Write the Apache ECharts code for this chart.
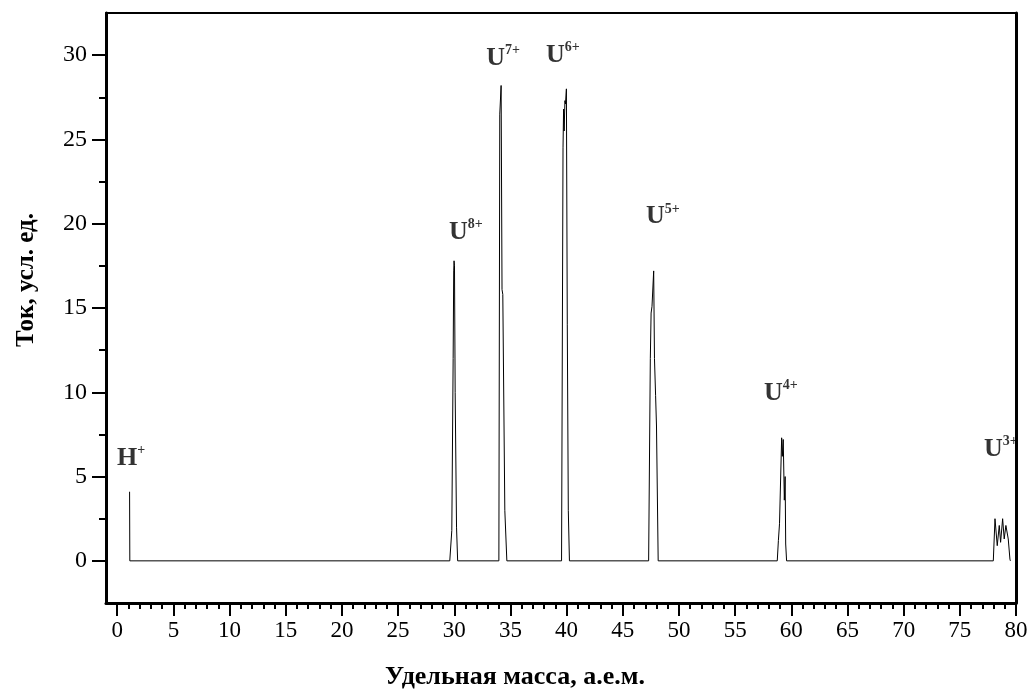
<!DOCTYPE html>
<html>
<head>
<meta charset="utf-8">
<script src="https://cdn.jsdelivr.net/npm/echarts@6/dist/echarts.min.js"></script>
<style>
  html, body { margin: 0; padding: 0; background: #fff; }
  #main { width: 1034px; height: 695px; }
</style>
</head>
<body>
<div id="main"></div>
<script>
// spectrum: mass (a.e.m.) and current (arb. units)
var mass = [
  1.1, 1.12,
  29.6, 29.78, 29.9, 29.95, 29.98, 30.02, 30.08, 30.2, 30.3,
  33.97, 34.05, 34.1, 34.17, 34.25, 34.32, 34.38, 34.5, 34.68,
  39.55, 39.68, 39.73, 39.78, 39.85, 39.9, 39.98, 40.06, 40.15, 40.25,
  47.3, 47.45, 47.52, 47.6, 47.75, 47.82, 47.92, 48.0, 48.15,
  58.75, 58.85, 58.95, 59.14, 59.2, 59.28, 59.38, 59.45, 59.5, 59.58,
  77.98, 78.13, 78.33, 78.51, 78.63, 78.81, 78.95, 79.1, 79.31, 79.46, 79.5
];
var current = [
  4.1, 0,
  0, 1.8, 12, 17.2, 17.8, 17.5, 10, 2, 0,
  0, 26.5, 26.4, 28.2, 16.1, 15.8, 11.5, 3, 0,
  0, 24.5, 26.8, 25.5, 27.3, 27.1, 28.0, 14, 3, 0,
  0, 12, 14.7, 15.1, 17.2, 12, 9.8, 8, 0,
  0, 1.2, 2.2, 7.3, 6.2, 7.2, 3.6, 5.0, 1, 0,
  0, 2.5, 0.9, 2.1, 1.1, 2.5, 1.3, 2.1, 1.3, 0.1, 0
];

// ion labels
var ionBase = ['H', 'U', 'U', 'U', 'U', 'U', 'U'];
var ionCharge = ['+', '8+', '7+', '6+', '5+', '4+', '3+'];
var ionX = [1.23, 31.04, 34.34, 39.67, 48.57, 59.08, 78.65];
var ionY = [6.09, 19.52, 29.83, 30.01, 20.42, 9.94, 6.62];

// ticks
var xMajor = [0, 5, 10, 15, 20, 25, 30, 35, 40, 45, 50, 55, 60, 65, 70, 75, 80];
var yMajor = [0, 5, 10, 15, 20, 25, 30];
var yMinor = [2.5, 7.5, 12.5, 17.5, 22.5, 27.5];
var xMinor = [];
for (var i = 0; i <= 80; i++) xMinor.push(i);

var serif = 'Liberation Serif';

var lineData = mass.map(function (m, i) { return [m, current[i]]; });
var ionData = ionX.map(function (x, i) { return [x, ionY[i], i]; });

var chart = echarts.init(document.getElementById('main'));
chart.setOption({
  animation: false,
  backgroundColor: '#fff',
  grid: { left: 106, right: 18, top: 13, bottom: 91, containLabel: false },
  xAxis: [
    {
      type: 'value', min: -1, max: 80, position: 'bottom',
      axisLine: { onZero: false, lineStyle: { color: '#000', width: 3 } },
      axisTick: { customValues: xMajor, length: 13, lineStyle: { color: '#000', width: 2 } },
      axisLabel: { customValues: xMajor, color: '#000', fontSize: 23, fontFamily: serif, margin: 16 },
      splitLine: { show: false },
      name: 'Удельная масса, а.е.м.', nameLocation: 'middle', nameGap: 61,
      nameTextStyle: { color: '#000', fontSize: 26, fontWeight: 'bold', fontFamily: serif, padding: [0, 92, 0, 0] }
    },
    {
      type: 'value', min: -1, max: 80, position: 'bottom',
      axisLine: { show: false, onZero: false },
      axisTick: { customValues: xMinor, length: 6, lineStyle: { color: '#000', width: 2 } },
      axisLabel: { show: false },
      splitLine: { show: false }
    },
    {
      type: 'value', min: -1, max: 80, position: 'top',
      axisLine: { onZero: false, lineStyle: { color: '#000', width: 2 } },
      axisTick: { show: false }, axisLabel: { show: false }, splitLine: { show: false }
    }
  ],
  yAxis: [
    {
      type: 'value', min: -2.5, max: 32.5, position: 'left',
      axisLine: { onZero: false, lineStyle: { color: '#000', width: 3 } },
      axisTick: { customValues: yMajor, length: 14, lineStyle: { color: '#000', width: 2 } },
      axisLabel: { customValues: yMajor, color: '#000', fontSize: 24, fontFamily: serif, margin: 19 },
      splitLine: { show: false },
      name: 'Ток, усл. ед.', nameLocation: 'middle', nameGap: 67,
      nameTextStyle: { color: '#000', fontSize: 25, fontWeight: 'bold', fontFamily: serif, padding: [0, 0, 0, 56] }
    },
    {
      type: 'value', min: -2.5, max: 32.5, position: 'left',
      axisLine: { show: false, onZero: false },
      axisTick: { customValues: yMinor, length: 7, lineStyle: { color: '#000', width: 2 } },
      axisLabel: { show: false },
      splitLine: { show: false }
    },
    {
      type: 'value', min: -2.5, max: 32.5, position: 'right',
      axisLine: { onZero: false, lineStyle: { color: '#000', width: 3 } },
      axisTick: { show: false }, axisLabel: { show: false }, splitLine: { show: false }
    }
  ],
  series: [
    {
      type: 'line', xAxisIndex: 0, yAxisIndex: 0,
      data: lineData, showSymbol: false, symbol: 'none',
      lineStyle: { color: '#000', width: 1 }
    },
    {
      type: 'scatter', xAxisIndex: 0, yAxisIndex: 0,
      data: ionData, symbolSize: 1,
      itemStyle: { color: 'transparent' },
      label: {
        show: true, position: 'inside',
        formatter: function (p) {
          var k = p.data[2];
          return '{b|' + ionBase[k] + '}{s|' + ionCharge[k] + '}';
        },
        rich: {
          b: { fontSize: 26, fontWeight: 'bold', fontFamily: serif, color: '#000' },
          s: { fontSize: 14, fontWeight: 'bold', fontFamily: serif, color: '#000', padding: [0, 0, 15, 0] }
        }
      }
    }
  ]
});
</script>
</body>
</html>
